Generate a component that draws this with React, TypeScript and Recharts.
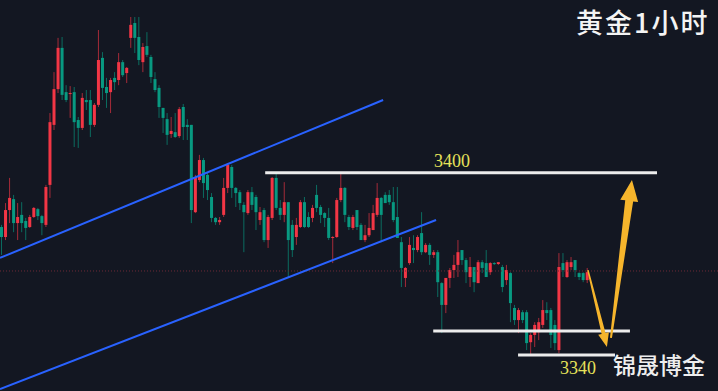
import React from 'react';
import { ComposedChart, Bar, XAxis, YAxis, ReferenceLine } from 'recharts';

// 1h gold candles, prices
const opens = [
  3382.1, 3378.8, 3387.7, 3391.3, 3383.4, 3386.1, 3384.1, 3382.1, 3385.4, 3388.0,
  3385.7, 3382.8, 3396.0, 3415.8, 3427.6, 3441.2, 3426.6, 3426.0, 3426.6, 3417.4,
  3414.8, 3424.0, 3424.0, 3415.8, 3422.4, 3437.9, 3428.3, 3426.6, 3431.3, 3430.6,
  3436.5, 3432.9, 3444.5, 3449.4, 3444.8, 3436.5, 3441.8, 3438.2, 3430.9, 3428.0,
  3421.4, 3417.7, 3412.8, 3413.4, 3412.1, 3421.7, 3415.8, 3415.8, 3387.0, 3397.6,
  3404.2, 3399.3, 3392.0, 3385.1, 3383.7, 3386.1, 3395.0, 3401.9, 3395.0, 3393.6,
  3389.4, 3386.7, 3393.6, 3392.0, 3384.4, 3387.7, 3377.8, 3385.1, 3398.3, 3388.4,
  3386.1, 3390.3, 3382.8, 3378.8, 3382.1, 3390.3, 3385.4, 3385.1, 3392.7, 3388.7,
  3386.7, 3385.1, 3378.5, 3378.8, 3391.0, 3395.0, 3385.4, 3381.8, 3387.7, 3382.8,
  3377.8, 3379.4, 3381.1, 3386.1, 3391.7, 3392.7, 3392.7, 3390.3, 3385.4, 3377.1,
  3365.3, 3370.2, 3375.2, 3374.5, 3380.1, 3373.8, 3376.2, 3372.9, 3373.8, 3363.6,
  3356.4, 3365.3, 3367.9, 3369.6, 3374.5, 3371.2, 3365.6, 3368.9, 3363.6, 3370.5,
  3370.2, 3367.2, 3370.2, 3369.9, 3368.9, 3364.6, 3366.9, 3355.4, 3351.4, 3354.0,
  3354.0, 3344.1, 3346.5, 3347.4, 3349.8, 3354.7, 3354.7, 3349.8, 3341.5, 3370.2,
  3365.6, 3368.9, 3371.2, 3366.9, 3366.9, 3364.6,
];
const highs = [
  3382.8, 3390.0, 3398.3, 3392.7, 3390.0, 3390.3, 3385.1, 3386.1, 3388.7, 3388.4,
  3386.1, 3396.0, 3419.7, 3433.2, 3444.5, 3444.8, 3428.9, 3428.6, 3428.3, 3418.4,
  3426.3, 3427.3, 3427.3, 3423.0, 3447.1, 3439.8, 3431.3, 3431.3, 3433.2, 3439.5,
  3437.2, 3434.9, 3451.4, 3451.4, 3451.4, 3442.8, 3446.4, 3438.9, 3433.2, 3428.9,
  3421.4, 3419.7, 3418.4, 3419.7, 3421.7, 3422.7, 3417.7, 3415.8, 3399.3, 3405.9,
  3404.9, 3400.2, 3393.3, 3385.4, 3385.4, 3398.3, 3403.2, 3402.6, 3395.3, 3394.3,
  3390.3, 3394.3, 3395.3, 3392.7, 3388.7, 3388.4, 3386.1, 3398.6, 3399.9, 3391.0,
  3396.9, 3390.3, 3384.4, 3385.1, 3391.0, 3392.0, 3387.0, 3389.4, 3396.0, 3389.4,
  3387.0, 3388.4, 3379.1, 3391.7, 3399.9, 3395.3, 3386.1, 3386.1, 3387.7, 3383.4,
  3382.8, 3386.7, 3389.4, 3396.6, 3392.0, 3393.6, 3394.3, 3395.3, 3395.3, 3378.8,
  3368.9, 3378.8, 3379.4, 3379.4, 3387.0, 3376.8, 3376.8, 3374.5, 3374.5, 3363.9,
  3365.3, 3368.6, 3372.9, 3377.8, 3374.5, 3371.9, 3372.2, 3368.9, 3371.2, 3371.2,
  3374.5, 3370.5, 3370.5, 3370.5, 3369.6, 3369.6, 3367.2, 3356.4, 3355.4, 3354.7,
  3354.7, 3347.1, 3350.7, 3352.1, 3358.0, 3357.3, 3355.4, 3351.4, 3373.5, 3373.5,
  3371.2, 3372.2, 3371.2, 3367.2, 3367.2, 3368.6,
];
const lows = [
  3372.9, 3377.8, 3383.4, 3380.4, 3377.8, 3380.4, 3377.8, 3381.8, 3385.1, 3384.4,
  3379.4, 3382.1, 3391.7, 3414.1, 3426.3, 3424.0, 3423.3, 3418.1, 3408.5, 3408.2,
  3414.1, 3420.7, 3411.8, 3415.1, 3421.7, 3424.0, 3421.4, 3419.7, 3427.3, 3428.9,
  3431.6, 3429.6, 3441.2, 3439.5, 3435.5, 3433.2, 3438.2, 3429.6, 3426.6, 3418.1,
  3413.1, 3409.2, 3411.5, 3411.5, 3411.5, 3410.8, 3410.8, 3383.4, 3386.7, 3396.9,
  3391.7, 3391.0, 3383.7, 3382.8, 3382.8, 3385.4, 3393.3, 3391.7, 3388.7, 3387.7,
  3373.8, 3386.1, 3387.7, 3381.1, 3382.8, 3377.1, 3375.2, 3384.4, 3387.7, 3384.4,
  3383.7, 3365.3, 3372.2, 3376.2, 3381.8, 3381.8, 3381.8, 3383.7, 3387.0, 3383.4,
  3382.1, 3377.8, 3370.2, 3378.5, 3390.3, 3383.7, 3381.1, 3381.1, 3381.1, 3377.8,
  3377.1, 3378.8, 3381.1, 3385.4, 3377.1, 3390.0, 3389.4, 3383.7, 3378.5, 3362.3,
  3362.3, 3369.6, 3370.2, 3373.8, 3372.9, 3373.5, 3369.6, 3371.9, 3359.0, 3347.1,
  3353.7, 3362.0, 3365.3, 3365.6, 3369.6, 3363.6, 3362.3, 3360.6, 3363.6, 3366.9,
  3365.6, 3366.3, 3369.6, 3369.6, 3360.6, 3363.0, 3350.7, 3349.8, 3347.1, 3350.4,
  3341.5, 3339.9, 3342.5, 3344.8, 3348.8, 3351.4, 3342.2, 3341.5, 3340.5, 3365.6,
  3365.3, 3367.9, 3365.6, 3364.6, 3363.9, 3363.6,
];
const closes = [
  3378.8, 3387.7, 3391.7, 3383.4, 3385.4, 3383.4, 3381.8, 3385.4, 3388.4, 3385.7,
  3383.4, 3395.3, 3416.7, 3427.6, 3441.2, 3425.7, 3424.0, 3426.3, 3416.7, 3414.8,
  3424.7, 3423.3, 3415.8, 3422.4, 3437.2, 3428.0, 3426.3, 3430.6, 3429.9, 3436.5,
  3432.2, 3434.6, 3448.8, 3444.5, 3437.2, 3441.5, 3438.9, 3431.6, 3427.3, 3421.7,
  3418.1, 3412.5, 3413.8, 3411.8, 3421.0, 3415.1, 3415.1, 3387.7, 3398.6, 3404.2,
  3396.6, 3394.3, 3385.1, 3383.7, 3384.4, 3395.0, 3402.6, 3395.0, 3393.3, 3390.0,
  3387.0, 3393.6, 3389.4, 3387.0, 3387.0, 3377.8, 3385.4, 3398.3, 3388.4, 3386.1,
  3390.3, 3377.8, 3374.5, 3382.8, 3390.3, 3382.1, 3382.1, 3388.4, 3388.4, 3386.1,
  3385.1, 3378.5, 3378.8, 3391.0, 3395.0, 3386.1, 3382.1, 3385.4, 3382.1, 3377.8,
  3379.4, 3381.8, 3386.7, 3391.7, 3386.1, 3390.0, 3390.3, 3384.4, 3378.5, 3368.6,
  3368.6, 3376.2, 3374.5, 3378.8, 3373.8, 3376.2, 3372.9, 3373.8, 3363.9, 3356.4,
  3365.3, 3367.9, 3369.6, 3373.8, 3371.2, 3367.2, 3368.9, 3363.9, 3370.5, 3368.6,
  3365.6, 3370.2, 3369.9, 3370.5, 3362.3, 3367.9, 3357.0, 3351.4, 3354.7, 3351.4,
  3343.8, 3346.5, 3349.8, 3350.7, 3354.7, 3353.7, 3346.5, 3343.8, 3368.9, 3367.9,
  3370.5, 3370.5, 3367.9, 3365.6, 3364.6, 3367.2,
];

// drawn annotations (x = candle index, y = price)
const upperChannel = [{ x: -0.25, y: 3371.9 }, { x: 94.6, y: 3424.0 }];
const lowerChannel = [{ x: -0.25, y: 3328.6 }, { x: 107.7, y: 3384.4 }];
const resistance = [{ x: 65.4, y: 3400 }, { x: 162.4, y: 3400 }];
const support = [{ x: 107.0, y: 3347.8 }, { x: 155.7, y: 3347.8 }];
const bottom = [{ x: 128.0, y: 3339.9 }, { x: 152.0, y: 3339.9 }];
const arrowDown = [{ x: 145.3, y: 3367.9 }, { x: 150.0, y: 3342.5 }];
const arrowUp = [{ x: 151.0, y: 3345.5 }, { x: 156.2, y: 3397.6 }];
const lastPrice = 3367.6;

const BG = '#131722';
const UP = '#f23645';
const DOWN = '#089981';
const ARROW = '#f6b52c';

const data = opens.map((o, i) => ({
  i,
  open: o,
  high: highs[i],
  low: lows[i],
  close: closes[i],
  range: [lows[i], highs[i]],
}));

const Candle = (props: any) => {
  const { x, y, width, height, payload } = props;
  const { open, close, high, low } = payload;
  const color = close >= open ? UP : DOWN;
  const k = high - low === 0 ? 0 : height / (high - low);
  const yo = y + (high - open) * k;
  const yc = y + (high - close) * k;
  const cx = x + width / 2;
  return (
    <g>
      <line x1={cx} x2={cx} y1={y} y2={y + height} stroke={color} strokeOpacity={0.65} />
      <rect x={cx - 1.5} y={Math.min(yo, yc)} width={3} height={Math.max(Math.abs(yo - yc), 1)} fill={color} />
    </g>
  );
};

const arrowShape = (w0: number, w1: number, headW: number, headL: number) => (props: any) => {
  const { x1, y1, x2, y2 } = props;
  const len = Math.hypot(x2 - x1, y2 - y1) || 1;
  const ux = (x2 - x1) / len;
  const uy = (y2 - y1) / len;
  const nx = -uy;
  const ny = ux;
  const bx = x2 - ux * headL;
  const by = y2 - uy * headL;
  const pts = [
    [x1 + (nx * w0) / 2, y1 + (ny * w0) / 2],
    [bx + (nx * w1) / 2, by + (ny * w1) / 2],
    [bx + (nx * headW) / 2, by + (ny * headW) / 2],
    [x2, y2],
    [bx - (nx * headW) / 2, by - (ny * headW) / 2],
    [bx - (nx * w1) / 2, by - (ny * w1) / 2],
    [x1 - (nx * w0) / 2, y1 - (ny * w0) / 2],
  ];
  return <polygon points={pts.map((p) => p.join(',')).join(' ')} fill={ARROW} />;
};

const priceText: React.CSSProperties = {
  position: 'absolute',
  fontFamily: '"Liberation Serif", serif',
  fontSize: 18,
  lineHeight: '20px',
  color: '#e6e25a',
};

export default function App() {
  return (
    <div style={{ position: 'relative', width: 718, height: 391, background: BG, overflow: 'hidden' }}>
      <style>{'body{margin:0}'}</style>
      <ComposedChart width={718} height={391} data={data} margin={{ top: 0, right: 0, bottom: 0, left: 0 }}>
        <XAxis dataKey="i" type="number" domain={[-0.25, 177.5]} hide allowDataOverflow />
        <YAxis type="number" domain={[3328, 3457]} hide allowDataOverflow />
        <ReferenceLine y={lastPrice} stroke="#6e2a36" strokeDasharray="1 2" />
        <Bar dataKey="range" barSize={3} shape={(p: any) => <Candle {...p} />} isAnimationActive={false} />
        <ReferenceLine segment={upperChannel} stroke="#2962ff" strokeWidth={2} ifOverflow="visible" />
        <ReferenceLine segment={lowerChannel} stroke="#2962ff" strokeWidth={2} ifOverflow="visible" />
        <ReferenceLine segment={resistance} stroke="#ececec" strokeWidth={3} ifOverflow="visible" />
        <ReferenceLine segment={support} stroke="#ececec" strokeWidth={3} ifOverflow="visible" />
        <ReferenceLine segment={bottom} stroke="#ececec" strokeWidth={3} ifOverflow="visible" />
        <ReferenceLine segment={arrowDown} ifOverflow="visible" shape={arrowShape(1.5, 4, 11, 14)} />
        <ReferenceLine segment={arrowUp} ifOverflow="visible" shape={arrowShape(2, 8, 18, 21)} />
      </ComposedChart>
      <div style={{ ...priceText, left: 434, top: 151 }}>3400</div>
      <div style={{ ...priceText, left: 560, top: 358 }}>3340</div>
      <div
        style={{
          position: 'absolute',
          left: 613,
          top: 350,
          fontFamily: '"Noto Sans CJK SC", sans-serif',
          fontSize: 23,
          lineHeight: '28px',
          fontWeight: 500,
          color: '#eeeeee',
        }}
      >
        锦晟博金
      </div>
      <div
        style={{
          position: 'absolute',
          left: 576,
          top: 6,
          fontFamily: '"Noto Sans CJK SC", sans-serif',
          fontSize: 27,
          lineHeight: '32px',
          letterSpacing: 2,
          fontWeight: 500,
          color: '#f4f4f4',
        }}
      >
        黄金1小时
      </div>
    </div>
  );
}
